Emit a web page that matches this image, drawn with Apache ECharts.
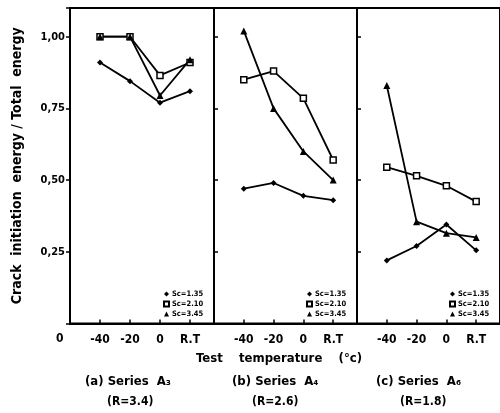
<!DOCTYPE html>
<html>
<head>
<meta charset="utf-8">
<script src="https://cdn.jsdelivr.net/npm/echarts@6/dist/echarts.min.js"></script>
<style>
html, body { margin: 0; padding: 0; background: #fff; }
#main { width: 500px; height: 413px; }
</style>
</head>
<body>
<div id="main"></div>
<script>
// test temperatures, R.T plotted at 20
var temps = [-40, -20, 0, 20];
var seriesNames = ['Sc=1.35', 'Sc=2.10', 'Sc=3.45'];

// (a) Series A3
var a_sc135 = [0.91, 0.845, 0.77, 0.81];
var a_sc210 = [1.00, 1.00, 0.865, 0.91];
var a_sc345 = [1.00, 1.00, 0.795, 0.92];
// (b) Series A4
var b_sc135 = [0.47, 0.49, 0.445, 0.43];
var b_sc210 = [0.85, 0.88, 0.785, 0.57];
var b_sc345 = [1.02, 0.75, 0.60, 0.50];
// (c) Series A6
var c_sc135 = [0.22, 0.27, 0.345, 0.255];
var c_sc210 = [0.545, 0.515, 0.48, 0.425];
var c_sc345 = [0.83, 0.355, 0.315, 0.30];

var panelTitles = ['(a) Series  A\u2083', '(b) Series  A\u2084', '(c) Series  A\u2086'];
var panelR = ['(R=3.4)', '(R=2.6)', '(R=1.8)'];

var FONT = "'DejaVu Sans Condensed', 'DejaVu Sans', sans-serif";

window.onload = () => {
	var myChart = echarts.init(document.getElementById('main'));

	var panels = [
		[a_sc135, a_sc210, a_sc345],
		[b_sc135, b_sc210, b_sc345],
		[c_sc135, c_sc210, c_sc345]
	];
	var lefts = [70, 214, 357];
	var widths = [144, 143, 143];
	var symbols = ['diamond', 'rect', 'triangle'];
	var sizes = [6, 6, 7];

	var grids = [], xAxes = [], yAxes = [], series = [], legends = [];

	panels.forEach(function (p, i) {
		grids.push({
			left: lefts[i], width: widths[i], top: 8, bottom: 89.5,
			show: true, borderColor: '#000', borderWidth: 2, backgroundColor: 'transparent'
		});
		xAxes.push({
			type: 'value', gridIndex: i, min: -60, max: 36, interval: 20,
			axisLine: { show: true, onZero: false, lineStyle: { color: '#000', width: 2 } },
			axisTick: { show: true, inside: true, length: 4, lineStyle: { color: '#000', width: 1.5 } },
			splitLine: { show: false },
			axisLabel: {
				color: '#000', fontFamily: FONT, fontWeight: 'bold', fontSize: 12, margin: 10,
				showMinLabel: false, showMaxLabel: false,
				formatter: function (v) {
					if (v === 20) return 'R.T';
					if (v < -40 || v > 20) return '';
					return String(v);
				}
			}
		});
		yAxes.push({
			type: 'value', gridIndex: i, min: 0, max: 1.1, interval: 0.25,
			name: i === 0 ? 'Crack  initiation  energy / Total  energy' : '',
			nameLocation: 'middle', nameRotate: 90, nameGap: 46,
			nameTextStyle: { color: '#000', fontFamily: FONT, fontWeight: 'bold', fontSize: 14 },
			axisLine: { show: true, onZero: false, lineStyle: { color: '#000', width: 2 } },
			axisTick: { show: true, inside: i > 0, length: 4, lineStyle: { color: '#000', width: 1.5 } },
			splitLine: { show: false },
			axisLabel: {
				show: i === 0, color: '#000', fontFamily: FONT, fontWeight: 'bold', fontSize: 11, margin: 5,
				formatter: function (v) {
					if (v <= 0 || v > 1.001) return '';
					return v.toFixed(2).replace('.', ',');
				}
			}
		});
		p.forEach(function (vals, k) {
			series.push({
				name: seriesNames[k], type: 'line', xAxisIndex: i, yAxisIndex: i,
				data: temps.map(function (t, j) { return [t, vals[j]]; }),
				symbol: symbols[k], symbolSize: sizes[k],
				lineStyle: { color: '#000', width: 1.8 },
				itemStyle: k === 1
					? { color: '#fff', borderColor: '#000', borderWidth: 1.5 }
					: { color: '#000' },
				silent: true, animation: false
			});
		});
		legends.push({
			orient: 'vertical', left: lefts[i] + widths[i] - 56, top: 285,
			itemWidth: 5, itemHeight: 5, itemGap: 2, selectedMode: false,
			textStyle: { color: '#000', fontFamily: FONT, fontWeight: 'bold', fontSize: 7.5, padding: [0, 0, 0, -2] },
			data: seriesNames.map(function (n, k) { return { name: n, icon: symbols[k] }; })
		});
	});

	var graphics = [
		{ type: 'text', left: 56, top: 333, style: { text: '0', font: 'bold 12px ' + FONT, fill: '#000' } },
		{ type: 'text', left: 196, top: 352, style: { text: 'Test    temperature    (\u00b0c)', font: 'bold 13px ' + FONT, fill: '#000' } }
	];
	var titleX = [85, 232, 376];
	var rX = [107, 252, 400];
	for (var i = 0; i < 3; i++) {
		graphics.push({ type: 'text', left: titleX[i], top: 375, style: { text: panelTitles[i], font: 'bold 13px ' + FONT, fill: '#000' } });
		graphics.push({ type: 'text', left: rX[i], top: 396, style: { text: panelR[i], font: 'bold 12px ' + FONT, fill: '#000' } });
	}

	myChart.setOption({
		backgroundColor: '#fff',
		animation: false,
		grid: grids,
		xAxis: xAxes,
		yAxis: yAxes,
		legend: legends,
		series: series,
		graphic: graphics
	});
};
</script>
</body>
</html>
